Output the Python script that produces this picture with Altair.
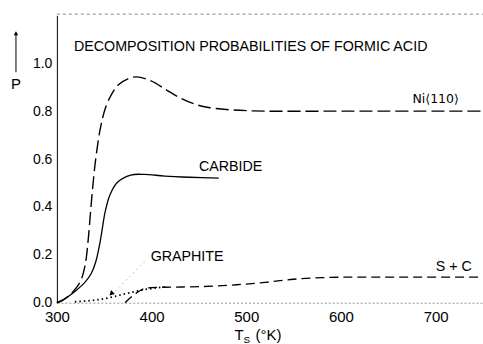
import altair as alt
import pandas as pd

# Ni<110> (long dashes)
ni_T = [300, 308, 315, 321, 326, 330, 333, 336, 339, 342, 346, 351, 357, 365, 375, 384, 400, 415, 430, 445, 460, 485, 520, 600, 750]
ni_P = [0.0, 0.015, 0.038, 0.065, 0.10, 0.16, 0.26, 0.40, 0.53, 0.63, 0.73, 0.81, 0.865, 0.91, 0.935, 0.943, 0.925, 0.89, 0.855, 0.83, 0.815, 0.805, 0.80, 0.80, 0.80]

# Carbide (solid)
carb_T = [300, 305, 312, 319, 329, 336, 341, 345, 348, 351, 356, 364, 378, 392, 414, 440, 471]
carb_P = [0.0, 0.008, 0.026, 0.047, 0.083, 0.12, 0.17, 0.24, 0.31, 0.38, 0.45, 0.503, 0.533, 0.536, 0.529, 0.524, 0.52]

# Graphite (dotted)
gr_T = [319, 338, 354, 375, 396, 414]
gr_P = [0.004, 0.01, 0.02, 0.04, 0.057, 0.066]

# S + C (short dashes)
sc_T = [372, 382, 393, 405, 420, 450, 490, 520, 550, 580, 620, 750]
sc_P = [0.0, 0.035, 0.06, 0.064, 0.065, 0.067, 0.075, 0.085, 0.098, 0.105, 0.107, 0.107]

x_ticks = [300, 400, 500, 600, 700]
y_ticks = [0.0, 0.2, 0.4, 0.6, 0.8, 1.0]

FONT = "Liberation Sans"

xs = alt.Scale(domain=[300, 750], nice=False, zero=False)
ys = alt.Scale(domain=[0, 1.2], nice=False, zero=False)

def df(T, P):
    return pd.DataFrame({"T": T, "P": P})

X = alt.X("T:Q", scale=xs, axis=alt.Axis(values=x_ticks, title=None, grid=False, ticks=False,
          domainColor="#999999", domainDash=[2, 2], labelFontSize=15, labelPadding=7,
          labelColor="black", labelFont=FONT, format="d", labelFlush=False))
Y = alt.Y("P:Q", scale=ys, axis=alt.Axis(values=y_ticks, title=None, grid=False, ticks=False,
          domainColor="black", domainWidth=1, labelFontSize=14, labelPadding=5,
          labelColor="black", labelFont=FONT, format=".1f", labelFlush=False))

ni = alt.Chart(df(ni_T, ni_P)).mark_line(color="black", strokeWidth=1.4, strokeDash=[13, 5],
                                         interpolate="catmull-rom").encode(x=X, y=Y)
carb = alt.Chart(df(carb_T, carb_P)).mark_line(color="black", strokeWidth=1.3,
                                               interpolate="catmull-rom").encode(x="T:Q", y="P:Q")
gr = alt.Chart(df(gr_T, gr_P)).mark_line(color="black", strokeWidth=1.8, strokeDash=[1.5, 3],
                                         interpolate="monotone").encode(x="T:Q", y="P:Q")
sc = alt.Chart(df(sc_T, sc_P)).mark_line(color="black", strokeWidth=1.3, strokeDash=[9, 5],
                                         interpolate="monotone").encode(x="T:Q", y="P:Q")

# graphite leader
lead_T = [395, 362]
lead_P = [0.18, 0.05]
lead = alt.Chart(df(lead_T, lead_P)).mark_line(color="#888888", strokeWidth=1, strokeDash=[1, 4]).encode(
    x="T:Q", y="P:Q")
arrow = alt.Chart(df([358], [0.04])).mark_point(shape="triangle", filled=True, color="black",
                                                size=30, angle=225, opacity=1).encode(x="T:Q", y="P:Q")

# top frame
top = alt.Chart(df([300, 750], [1.205, 1.205])).mark_line(color="#888888", strokeWidth=1,
                                                          strokeDash=[3, 3]).encode(x="T:Q", y="P:Q")

lab_text = ["DECOMPOSITION PROBABILITIES OF FORMIC ACID", "CARBIDE", "GRAPHITE", "S + C"]
lab_T = [318, 450, 399, 700]
lab_P = [1.067, 0.567, 0.19, 0.15]
labels = alt.Chart(pd.DataFrame({"T": lab_T, "P": lab_P, "t": lab_text})).mark_text(
    align="left", baseline="middle", font=FONT, fontSize=14.3, color="black").encode(
    x="T:Q", y="P:Q", text="t:N")

ni_lab = alt.Chart(pd.DataFrame({"T": [700], "P": [0.85], "t": ["Ni\u27E8110\u27E9"]})).mark_text(
    align="center", baseline="middle", font="DejaVu Sans", fontSize=12.5, color="black").encode(
    x="T:Q", y="P:Q", text="t:N")

# y axis title: arrow + P
p_shaft = alt.Chart(df([0], [0])).mark_rule(color="black", strokeWidth=1).encode(
    x=alt.value(-41), y=alt.value(18), y2=alt.value(57))
p_head = alt.Chart(df([0], [0])).mark_point(shape="triangle-up", filled=True, color="black",
                                            size=20, opacity=1).encode(x=alt.value(-41), y=alt.value(18))
p_lab = alt.Chart(df([0], [0])).mark_text(font=FONT, fontSize=15, color="black").encode(
    x=alt.value(-41), y=alt.value(69), text=alt.value("P"))

# x axis title: T_S (°K)
t_main = alt.Chart(df([0], [0])).mark_text(font=FONT, fontSize=15, color="black", align="left").encode(
    x=alt.value(178), y=alt.value(320), text=alt.value("T"))
t_sub = alt.Chart(df([0], [0])).mark_text(font=FONT, fontSize=10, color="black", align="left").encode(
    x=alt.value(187), y=alt.value(325), text=alt.value("S"))
t_unit = alt.Chart(df([0], [0])).mark_text(font=FONT, fontSize=15, color="black", align="left").encode(
    x=alt.value(199), y=alt.value(320), text=alt.value("(°K)"))

chart = alt.layer(ni, carb, gr, sc, lead, arrow, top, labels, ni_lab,
                  p_shaft, p_head, p_lab, t_main, t_sub, t_unit).properties(
    width=427, height=288,
    autosize=alt.AutoSizeParams(type="none"),
    padding={"left": 57, "top": 15, "right": 0, "bottom": 41},
    background="white",
).configure_view(stroke=None)

chart.save("out.html", embed_options={"renderer": "svg", "actions": False})
